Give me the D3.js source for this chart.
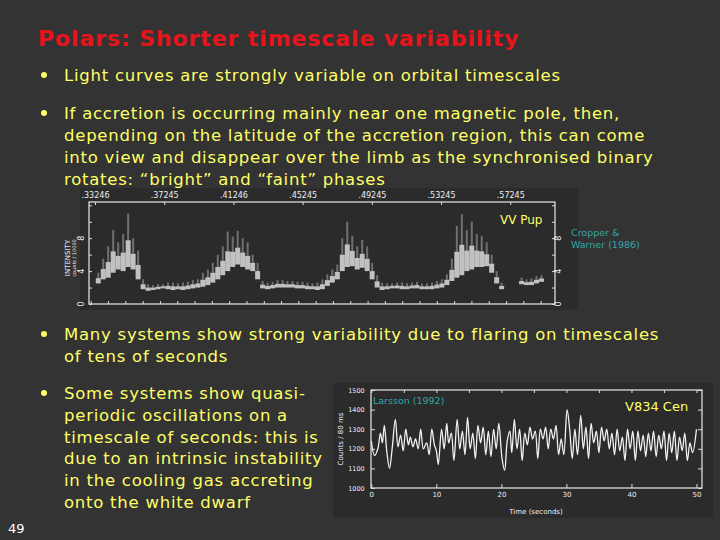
<!DOCTYPE html>
<html><head><meta charset="utf-8">
<script src="https://cdn.jsdelivr.net/npm/d3@7"></script>
<style>body{margin:0;background:#333333;}svg{display:block;}</style>
</head><body>
<svg id="c" width="720" height="540"></svg>
<script>
// ---- VV Pup light curve (binned envelope: low/high intensity per time bin) ----
const lcStart = 0.33435, lcStep = 0.002878;
const lcLow = [2.5,3.0,3.2,3.8,4.2,4.0,4.5,4.2,3.0,1.8,
 1.6,1.7,1.8,1.9,1.8,1.7,1.8,1.7,1.8,1.9,2.0,2.1,2.3,2.6,3.0,3.5,4.0,4.5,4.8,4.5,4.2,4.0,3.0,
 1.9,1.8,1.9,2.0,2.0,2.0,2.0,1.9,1.9,1.8,1.8,1.7,1.8,2.2,2.6,3.0,4.0,4.5,4.6,4.2,4.4,4.0,3.0,2.0,
 1.7,1.8,1.9,1.9,1.8,1.8,1.9,1.9,1.8,1.8,1.8,1.9,2.0,2.3,2.8,3.2,3.5,4.0,4.2,4.5,4.5,4.6,3.8,2.5,1.8,
 null,null,null,2.4,2.3,2.3,2.5,2.7];
const lcHigh = [3.8,5.5,7.0,9.0,7.5,8.5,11.0,8.0,6.5,3.0,
 2.4,2.3,2.4,2.4,2.6,2.6,2.5,2.6,2.7,2.9,3.0,3.8,4.2,5.0,6.0,7.0,8.8,8.2,8.9,8.0,7.5,6.0,5.0,
 2.8,2.6,2.7,2.9,2.9,2.8,2.8,2.7,2.7,2.6,2.5,2.6,3.0,3.6,4.2,4.8,8.0,10.0,8.3,7.0,7.8,7.0,5.0,3.5,
 2.6,2.5,2.5,2.6,2.6,2.5,2.6,2.7,2.5,2.5,2.6,2.8,3.0,3.6,5.5,9.5,10.9,9.0,10.0,8.5,8.3,7.5,6.0,4.0,2.6,
 null,null,null,3.2,3.0,3.1,3.4,3.5];
const lcTickVals = [0.33246,0.37245,0.41246,0.45245,0.49245,0.53245,0.57245];
const lcTickLabels = [".33246",".37245",".41246",".45245",".49245",".53245",".57245"];
const lcYTicks = [0,4,8];

// ---- V834 Cen count rate ----
const cenT = [0,0.5,1.0,1.4,1.7,2.0,2.4,2.8,3.2,3.7,4.1,4.5,4.9,5.3,5.7,6.0,6.4,6.8,7.2,7.6,8.0,8.5,8.9,9.3,9.7,10.0,10.3,10.8,11.2,11.6,11.9,12.3,12.7,13.2,13.6,14.0,14.4,14.8,15.2,15.6,16.0,16.4,16.8,17.2,17.6,18.0,18.4,18.8,19.2,19.6,20.1,20.5,20.9,21.3,21.6,22.0,22.4,22.8,23.2,23.6,24.0,24.4,24.8,25.2,25.6,26.0,26.4,26.8,27.2,27.6,28.0,28.4,28.8,29.2,29.6,30.1,30.5,30.9,31.3,31.7,32.2,32.6,33.0,33.4,33.8,34.2,34.6,35.0,35.4,35.8,36.2,36.6,37.0,37.4,37.8,38.2,38.6,39.0,39.4,39.8,40.2,40.6,41.0,41.4,41.8,42.2,42.6,43.0,43.4,43.8,44.2,44.6,45.0,45.4,45.8,46.2,46.6,47.0,47.4,47.8,48.2,48.6,49.0,49.4,50.0];
const cenV = [1240,1165,1200,1280,1230,1320,1180,1100,1200,1350,1210,1270,1190,1300,1220,1260,1210,1250,1200,1300,1200,1230,1170,1300,1220,1190,1120,1300,1200,1330,1230,1280,1140,1350,1200,1290,1170,1360,1200,1280,1150,1320,1230,1310,1170,1290,1160,1300,1200,1330,1150,1090,1240,1290,1180,1350,1200,1300,1140,1280,1220,1310,1250,1290,1150,1300,1250,1310,1200,1300,1250,1320,1170,1250,1170,1400,1300,1150,1300,1170,1370,1200,1310,1150,1330,1230,1290,1180,1310,1240,1300,1200,1280,1170,1300,1190,1260,1140,1300,1200,1290,1140,1290,1190,1270,1160,1280,1190,1290,1160,1270,1200,1290,1140,1280,1180,1290,1140,1260,1190,1280,1140,1230,1180,1300];
const cenXTicks = [0,10,20,30,40,50];
const cenYTicks = [1000,1100,1200,1300,1400,1500];

const svg = d3.select("#c");
const F = "'DejaVu Sans', Verdana, sans-serif";
const YEL = "#ffff66";

// title
svg.append("text").attr("x",38).attr("y",46).attr("fill","#e8141c")
  .attr("font-family",F).attr("font-weight","bold").attr("font-size",22).attr("letter-spacing",0.9)
  .text("Polars: Shorter timescale variability");

function bullet(lines, y0, x0, lh){
  svg.append("circle").attr("cx",x0-20).attr("cy",y0-6).attr("r",3).attr("fill",YEL);
  lines.forEach((l,i)=>svg.append("text").attr("x",x0).attr("y",y0+i*lh)
    .attr("fill",YEL).attr("font-family",F).attr("font-size",16.5).attr("letter-spacing",0.75).text(l));
}
bullet(["Light curves are strongly variable on orbital timescales"],81,64,22);
bullet(["If accretion is occurring mainly near one magnetic pole, then,",
 "depending on the latitude of the accretion region, this can come",
 "into view and disappear over the limb as the synchronised binary",
 "rotates: \u201cbright\u201d and \u201cfaint\u201d phases"],119,64,22);
bullet(["Many systems show strong variability due to flaring on timescales",
 "of tens of seconds"],340,64,22);
bullet(["Some systems show quasi-","periodic oscillations on a",
 "timescale of seconds: this is","due to an intrinsic instability",
 "in the cooling gas accreting","onto the white dwarf"],399,64,21.8);

svg.append("text").attr("x",8).attr("y",533).attr("fill","#ffffff")
  .attr("font-family",F).attr("font-size",13).text("49");

// ---- light curve chart ----
svg.append("rect").attr("x",80).attr("y",188).attr("width",498).attr("height",122).attr("fill","#2b2b2b");
const lx = d3.scaleLinear().domain([0.3290,0.5983]).range([89,555]);
const ly = d3.scaleLinear().domain([0,12.4]).range([304,202]);
const g1 = svg.append("g");
g1.append("rect").attr("x",89).attr("y",202).attr("width",466).attr("height",102)
  .attr("fill","none").attr("stroke","#e8e8e8").attr("stroke-width",1.2);
g1.append("g").attr("transform","translate(0,202)")
  .call(d3.axisTop(lx).tickValues(lcTickVals).tickFormat((d,i)=>lcTickLabels[i]).tickSize(-3))
  .call(a=>{a.select(".domain").remove();a.selectAll("line").attr("stroke","#ddd");
    a.selectAll("text").attr("fill","#eee").attr("font-size",8).attr("font-family",F).attr("dy","-0.1em");});
g1.append("g").attr("transform","translate(0,304)")
  .call(d3.axisBottom(lx).ticks(27).tickFormat("").tickSize(-3))
  .call(a=>{a.select(".domain").remove();a.selectAll("line").attr("stroke","#ddd");});
[[89,d3.axisLeft],[555,d3.axisRight]].forEach(([x,ax])=>{
  g1.append("g").attr("transform",`translate(${x},0)`)
    .call(ax(ly).ticks(6).tickFormat("").tickSize(-3))
    .call(a=>{a.select(".domain").remove();a.selectAll("line").attr("stroke","#ddd");});
});
lcYTicks.forEach(v=>{
  [84,561].forEach(x=>svg.append("text").attr("transform",`translate(${x},${ly(v)}) rotate(-90)`)
    .attr("text-anchor","middle").attr("fill","#eee").attr("font-size",8).attr("font-family",F).text(v));
});
svg.append("text").attr("transform","translate(70,258) rotate(-90)").attr("text-anchor","middle")
  .attr("fill","#eee").attr("font-size",7).attr("font-family",F).text("INTENSITY");
svg.append("text").attr("transform","translate(76,258) rotate(-90)").attr("text-anchor","middle")
  .attr("fill","#eee").attr("font-size",5).attr("font-family",F).text("counts / 10000");
const bins = lcLow.map((lo,i)=>({t:lcStart+i*lcStep,lo,hi:lcHigh[i]})).filter(d=>d.lo!==null);
const bw = lx(lcStart+lcStep)-lx(lcStart);
const mid = d=>d.lo+(d.hi-d.lo)*0.5;
g1.selectAll(".core").data(bins).enter().append("rect")
  .attr("x",d=>lx(d.t)-bw/2).attr("width",bw)
  .attr("y",d=>ly(mid(d))).attr("height",d=>ly(d.lo)-ly(mid(d)))
  .attr("fill","#f4f4f4").attr("opacity",0.75);
g1.selectAll(".halo").data(bins).enter().append("rect")
  .attr("x",d=>lx(d.t)-bw/2+1.5).attr("width",bw-3)
  .attr("y",d=>ly(d.hi)).attr("height",d=>ly(mid(d))-ly(d.hi))
  .attr("fill","#f4f4f4").attr("opacity",0.35);
svg.append("text").attr("x",500).attr("y",224).attr("fill",YEL).attr("font-family",F).attr("font-size",12).text("VV Pup");
svg.append("text").attr("x",571).attr("y",236).attr("fill","#33a6a6").attr("font-family",F).attr("font-size",9.5).text("Cropper &");
svg.append("text").attr("x",571).attr("y",248).attr("fill","#33a6a6").attr("font-family",F).attr("font-size",9.5).text("Warner (1986)");

// ---- V834 Cen chart ----
svg.append("rect").attr("x",333).attr("y",383).attr("width",380).attr("height",135).attr("fill","#2b2b2b");
const cx = d3.scaleLinear().domain([-0.05,50.85]).range([371,702]);
const cy = d3.scaleLinear().domain([1000,1500]).range([488,390]);
const g2 = svg.append("g");
g2.append("rect").attr("x",371).attr("y",390).attr("width",331).attr("height",98)
  .attr("fill","none").attr("stroke","#e8e8e8").attr("stroke-width",1.2);
g2.append("g").attr("transform","translate(0,488)")
  .call(d3.axisBottom(cx).tickValues(cenXTicks).tickSize(-4))
  .call(a=>{a.select(".domain").remove();a.selectAll("line").attr("stroke","#ddd");
    a.selectAll("text").attr("fill","#eee").attr("font-size",7).attr("font-family",F).attr("dy","0.9em");});
g2.append("g").attr("transform","translate(0,390)")
  .call(d3.axisTop(cx).tickValues(d3.range(0,51,5)).tickFormat("").tickSize(-3))
  .call(a=>{a.select(".domain").remove();a.selectAll("line").attr("stroke","#ddd");});
g2.append("g").attr("transform","translate(371,0)")
  .call(d3.axisLeft(cy).tickValues(cenYTicks).tickFormat(d3.format("d")).tickSize(-4))
  .call(a=>{a.select(".domain").remove();a.selectAll("line").attr("stroke","#ddd");
    a.selectAll("text").attr("fill","#eee").attr("font-size",6.5).attr("font-family",F).attr("dx","-0.5em");});
g2.append("g").attr("transform","translate(702,0)")
  .call(d3.axisRight(cy).tickValues(cenYTicks).tickFormat("").tickSize(-4))
  .call(a=>{a.select(".domain").remove();a.selectAll("line").attr("stroke","#ddd");});
svg.append("text").attr("x",536).attr("y",514).attr("text-anchor","middle").attr("fill","#eee")
  .attr("font-family",F).attr("font-size",7).text("Time  (seconds)");
svg.append("text").attr("transform","translate(343,439) rotate(-90)").attr("text-anchor","middle")
  .attr("fill","#eee").attr("font-family",F).attr("font-size",7).text("Counts / 80 ms");
g2.append("path").datum(cenT.map((t,i)=>[t,cenV[i]]))
  .attr("d",d3.line().curve(d3.curveCatmullRom).x(d=>cx(d[0])).y(d=>cy(d[1])))
  .attr("fill","none").attr("stroke","#f2f2f2").attr("stroke-width",1.3);
svg.append("text").attr("x",373).attr("y",404).attr("fill","#33a6a6").attr("font-family",F).attr("font-size",9.5).text("Larsson (1992)");
svg.append("text").attr("x",625).attr("y",411).attr("fill",YEL).attr("font-family",F).attr("font-size",13).text("V834 Cen");
</script>
</body></html>
